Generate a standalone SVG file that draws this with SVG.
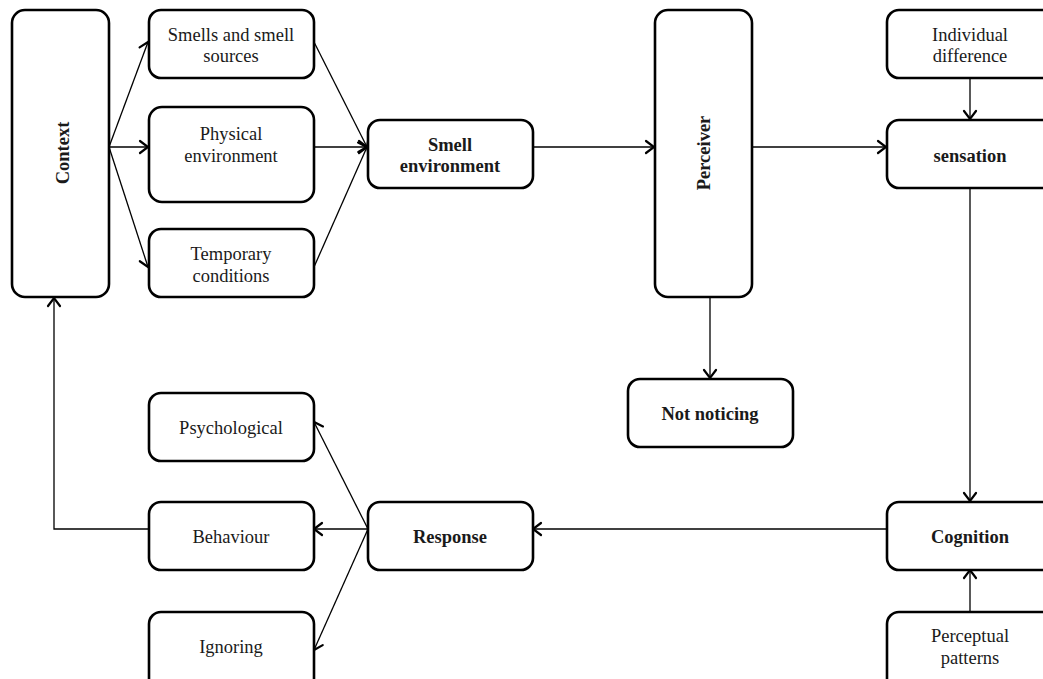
<svg xmlns="http://www.w3.org/2000/svg" width="1043" height="679" viewBox="0 0 1043 679">
<defs>
<style>
.box{fill:#fff;stroke:#000;stroke-width:2.6}
.t{font-family:"Liberation Serif","DejaVu Serif",serif;font-size:18.5px;fill:#1a1a1a;text-anchor:middle}
.b{font-weight:bold}
.c{fill:none;stroke:#000;stroke-width:1.3}
</style>
<marker id="ah" viewBox="-10 -8 12 16" markerWidth="12" markerHeight="16" refX="0" refY="0" orient="auto" markerUnits="userSpaceOnUse">
<path d="M-8,-6 L0,0 L-8,6" fill="none" stroke="#000" stroke-width="2.2" stroke-linecap="round" stroke-linejoin="miter"/>
</marker>
</defs>
<rect width="1043" height="679" fill="#fff"/>
<g id="connectors">
<line class="c" x1="109" y1="147" x2="148" y2="42" marker-end="url(#ah)"/>
<line class="c" x1="109" y1="147" x2="148" y2="147" marker-end="url(#ah)"/>
<line class="c" x1="109" y1="147" x2="148" y2="267" marker-end="url(#ah)"/>
<line class="c" x1="314" y1="42" x2="367" y2="147" marker-end="url(#ah)"/>
<line class="c" x1="314" y1="147" x2="367" y2="147" marker-end="url(#ah)"/>
<line class="c" x1="314" y1="267" x2="367" y2="147" marker-end="url(#ah)"/>
<line class="c" x1="533" y1="147" x2="654" y2="147" marker-end="url(#ah)"/>
<line class="c" x1="752" y1="147" x2="886" y2="147" marker-end="url(#ah)"/>
<line class="c" x1="970" y1="78" x2="970" y2="119" marker-end="url(#ah)"/>
<line class="c" x1="710" y1="297" x2="710" y2="378" marker-end="url(#ah)"/>
<line class="c" x1="970" y1="188" x2="970" y2="501" marker-end="url(#ah)"/>
<line class="c" x1="970" y1="612" x2="970" y2="570" marker-end="url(#ah)"/>
<line class="c" x1="887" y1="529" x2="533" y2="529" marker-end="url(#ah)"/>
<line class="c" x1="368" y1="529" x2="314" y2="422" marker-end="url(#ah)"/>
<line class="c" x1="368" y1="529" x2="314" y2="529" marker-end="url(#ah)"/>
<line class="c" x1="368" y1="529" x2="314" y2="650" marker-end="url(#ah)"/>
<polyline class="c" points="149,529 54,529 54,298" marker-end="url(#ah)"/>
</g>
<g id="context"><rect class="box" x="12" y="10" width="97" height="287" rx="13"/><text class="t b" transform="translate(69,153) rotate(-90)">Context</text></g>
<g id="smells"><rect class="box" x="149" y="10" width="165" height="68" rx="12"/><text class="t" x="231" y="41">Smells and smell</text><text class="t" x="231" y="62">sources</text></g>
<g id="physical"><rect class="box" x="149" y="107" width="165" height="95" rx="13"/><text class="t" x="231" y="140">Physical</text><text class="t" x="231" y="162">environment</text></g>
<g id="temporary"><rect class="box" x="149" y="229" width="165" height="68" rx="12"/><text class="t" x="231" y="260">Temporary</text><text class="t" x="231" y="282">conditions</text></g>
<g id="smell-env"><rect class="box" x="368" y="120" width="165" height="68" rx="12"/><text class="t b" x="450" y="151">Smell</text><text class="t b" x="450" y="172">environment</text></g>
<g id="perceiver"><rect class="box" x="655" y="10" width="97" height="287" rx="13"/><text class="t b" transform="translate(710,153) rotate(-90)">Perceiver</text></g>
<g id="individual"><rect class="box" x="887" y="10" width="170" height="68" rx="12"/><text class="t" x="970" y="41">Individual</text><text class="t" x="970" y="62">difference</text></g>
<g id="sensation"><rect class="box" x="887" y="120" width="170" height="68" rx="12"/><text class="t b" x="970" y="162">sensation</text></g>
<g id="not-noticing"><rect class="box" x="628" y="379" width="165" height="68" rx="12"/><text class="t b" x="710" y="420">Not noticing</text></g>
<g id="psychological"><rect class="box" x="149" y="393" width="165" height="68" rx="12"/><text class="t" x="231" y="434">Psychological</text></g>
<g id="behaviour"><rect class="box" x="149" y="502" width="165" height="68" rx="12"/><text class="t" x="231" y="543">Behaviour</text></g>
<g id="ignoring"><rect class="box" x="149" y="612" width="165" height="80" rx="12"/><text class="t" x="231" y="653">Ignoring</text></g>
<g id="response"><rect class="box" x="368" y="502" width="165" height="68" rx="12"/><text class="t b" x="450" y="543">Response</text></g>
<g id="cognition"><rect class="box" x="887" y="502" width="170" height="68" rx="12"/><text class="t b" x="970" y="543">Cognition</text></g>
<g id="perceptual"><rect class="box" x="887" y="612" width="170" height="80" rx="12"/><text class="t" x="970" y="642">Perceptual</text><text class="t" x="970" y="664">patterns</text></g>
</svg>
